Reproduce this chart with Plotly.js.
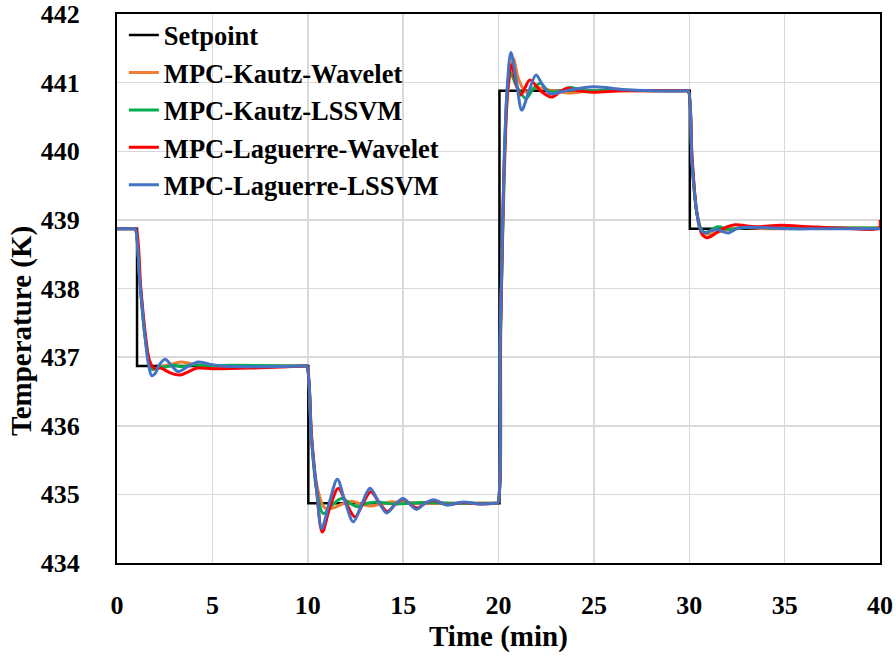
<!DOCTYPE html>
<html>
<head>
<meta charset="utf-8">
<script src="https://cdn.plot.ly/plotly-3.0.1.min.js"></script>
<style>
  html, body { margin: 0; padding: 0; background: #ffffff; }
  #chart { width: 896px; height: 657px; }
</style>
</head>
<body>
<div id="chart"></div>
<script>
// ---------- data ----------
const seriesNames = ["Setpoint", "MPC-Kautz-Wavelet", "MPC-Kautz-LSSVM", "MPC-Laguerre-Wavelet", "MPC-Laguerre-LSSVM"];

const timeSetpoint = [0, 1.05, 1.05, 10.03, 10.03, 20.05, 20.05, 30.03, 30.03, 40];
const tempSetpoint = [438.87, 438.87, 436.87, 436.87, 434.87, 434.87, 440.88, 440.88, 438.87, 438.87];

const timeKautzWavelet = [0, 0.85, 0.95, 1.2, 1.45, 1.7, 1.9, 2.3, 2.9, 3.4, 3.9, 4.5, 6, 9.85, 9.95,
  10.2, 10.5, 10.9, 11.3, 11.8, 12.3, 12.8, 13.3, 13.8, 14.3, 15, 17, 19.85, 19.95,
  20.1, 20.3, 20.5, 20.78, 21.05, 21.45, 21.9, 22.5, 23.1, 23.8, 24.5, 26, 29.85, 29.95,
  30.15, 30.4, 30.7, 31.0, 31.6, 32.2, 32.9, 34, 36, 40];
const tempKautzWavelet = [438.87, 438.87, 438.87, 438.1, 437.35, 436.95, 436.83, 436.86, 436.9, 436.93, 436.9, 436.88, 436.87, 436.87, 436.87,
  435.8, 435.1, 434.8, 434.8, 434.86, 434.9, 434.86, 434.83, 434.86, 434.89, 434.88, 434.87, 434.87, 434.87,
  437.3, 439.6, 440.9, 441.35, 441.05, 440.86, 440.93, 440.9, 440.87, 440.85, 440.87, 440.88, 440.88, 440.88,
  439.85, 439.1, 438.82, 438.79, 438.83, 438.87, 438.89, 438.87, 438.88, 438.88];

const timeKautzLSSVM = [0, 0.85, 0.95, 1.2, 1.45, 1.7, 1.85, 2.1, 2.6, 3.0, 3.4, 4.0, 4.6, 6, 9.85, 9.95,
  10.2, 10.47, 10.82, 11.3, 11.78, 12.2, 12.6, 13.1, 13.6, 14.5, 16, 18, 19.85, 19.95,
  20.1, 20.3, 20.45, 20.6, 20.95, 21.44, 21.8, 22.2, 22.6, 23.2, 23.8, 24.5, 26, 29.85, 29.95,
  30.15, 30.4, 30.65, 30.9, 31.5, 32.1, 33, 35, 40];
const tempKautzLSSVM = [438.87, 438.87, 438.87, 438.1, 437.35, 436.9, 436.82, 436.84, 436.86, 436.88, 436.86, 436.89, 436.87, 436.88, 436.87, 436.87,
  435.8, 435.05, 434.72, 434.85, 434.94, 434.87, 434.82, 434.87, 434.89, 434.86, 434.88, 434.87, 434.87, 434.87,
  437.3, 439.8, 440.85, 441.16, 440.95, 440.77, 440.9, 440.99, 440.88, 440.87, 440.93, 440.88, 440.89, 440.88, 440.88,
  439.85, 439.1, 438.85, 438.82, 438.9, 438.86, 438.89, 438.88, 438.88];

const timeLaguerreWavelet = [0, 0.9, 1.0, 1.25, 1.5, 1.7, 1.95, 2.3, 2.8, 3.3, 3.75, 4.2, 5, 7, 9.85, 9.95,
  10.2, 10.45, 10.76, 11.15, 11.6, 12.05, 12.48, 12.9, 13.3, 13.75, 14.17, 14.6, 15.0, 15.4, 15.75, 16.15, 16.6, 17.3, 18.15, 19, 19.85, 19.95,
  20.12, 20.3, 20.5, 20.69, 20.95, 21.16, 21.4, 21.65, 22.2, 22.78, 23.2, 23.57, 24.2, 25, 26.5, 29.85, 29.95,
  30.15, 30.4, 30.65, 30.9, 31.2, 31.57, 32.0, 32.4, 33.5, 34.8, 36.3, 38, 39.95, 40];
const tempLaguerreWavelet = [438.87, 438.87, 438.87, 438.0, 437.3, 436.95, 436.84, 436.84, 436.77, 436.74, 436.79, 436.84, 436.83, 436.84, 436.87, 436.87,
  435.85, 435.1, 434.45, 434.8, 435.09, 434.85, 434.67, 434.87, 435.04, 434.88, 434.75, 434.86, 434.93, 434.85, 434.8, 434.87, 434.91, 434.85, 434.88, 434.86, 434.87, 434.87,
  437.5, 439.8, 440.95, 441.26, 440.95, 440.82, 440.93, 441.04, 440.88, 440.79, 440.86, 440.92, 440.88, 440.86, 440.88, 440.88, 440.88,
  439.9, 439.1, 438.8, 438.74, 438.77, 438.84, 438.9, 438.93, 438.9, 438.92, 438.9, 438.88, 438.88, 439.0];

const timeLaguerreLSSVM = [0, 0.85, 0.95, 1.2, 1.45, 1.65, 1.82, 2.0, 2.2, 2.52, 2.85, 3.2, 3.7, 4.25, 4.8, 5.5, 7, 9.85, 9.95,
  10.2, 10.47, 10.73, 11.15, 11.55, 11.95, 12.39, 12.85, 13.26, 13.7, 14.14, 14.6, 15.0, 15.35, 15.7, 16.1, 16.6, 17.3, 18.15, 19, 19.85, 19.95,
  20.1, 20.3, 20.45, 20.65, 20.95, 21.22, 21.6, 21.97, 22.3, 22.7, 23.5, 25.0, 26.5, 28, 29.85, 29.95,
  30.15, 30.4, 30.6, 30.85, 31.15, 31.5, 31.75, 32.05, 32.57, 33.5, 35.1, 37, 40];
const tempLaguerreLSSVM = [438.87, 438.87, 438.87, 438.08, 437.35, 436.9, 436.73, 436.76, 436.88, 436.97, 436.88, 436.79, 436.86, 436.93, 436.9, 436.87, 436.86, 436.87, 436.87,
  435.79, 435.06, 434.5, 434.9, 435.22, 434.9, 434.6, 434.87, 435.09, 434.9, 434.73, 434.86, 434.94, 434.86, 434.78, 434.86, 434.92, 434.845, 434.89, 434.86, 434.87, 434.87,
  437.4, 439.9, 440.9, 441.44, 441.0, 440.6, 440.88, 441.11, 440.97, 440.84, 440.88, 440.94, 440.9, 440.88, 440.88, 440.88,
  439.8, 439.1, 438.85, 438.81, 438.84, 438.86, 438.83, 438.81, 438.88, 438.89, 438.87, 438.87, 438.87];

const xTickVals = [0, 5, 10, 15, 20, 25, 30, 35, 40];
const yTickVals = [434, 435, 436, 437, 438, 439, 440, 441, 442];
const xTitle = "Time (min)";
const yTitle = "Temperature (K)";

// ---------- styling ----------
const FONT = "Liberation Serif, serif";
const colors = ["#000000", "#ED7D31", "#00B050", "#FF0000", "#4472C4"];
const widths = [2.5, 3, 3, 3, 3];

const xs = [timeSetpoint, timeKautzWavelet, timeKautzLSSVM, timeLaguerreWavelet, timeLaguerreLSSVM];
const ys = [tempSetpoint, tempKautzWavelet, tempKautzLSSVM, tempLaguerreWavelet, tempLaguerreLSSVM];

const traces = seriesNames.map((name, i) => ({
  type: "scatter",
  mode: "lines",
  name: name,
  x: xs[i],
  y: ys[i],
  line: { color: colors[i], width: widths[i], shape: i === 0 ? "linear" : "spline", smoothing: 0.9 },
  hoverinfo: "skip"
}));

const titleFont = { family: FONT, size: 29, weight: "bold", color: "#000" };

const layout = {
  width: 896,
  height: 657,
  margin: { l: 117, r: 16, t: 14, b: 94, autoexpand: false },
  paper_bgcolor: "#ffffff",
  plot_bgcolor: "#ffffff",
  font: { family: FONT, color: "#000000" },
  showlegend: true,
  legend: {
    x: 0.009, y: 1.005, xanchor: "left", yanchor: "top",
    bgcolor: "rgba(255,255,255,0)",
    font: { family: FONT, size: 26.5, weight: "bold", color: "#000" },
    traceorder: "normal",
    itemwidth: 30
  },
  xaxis: {
    range: [0, 40],
    tickvals: xTickVals,
    ticktext: xTickVals.map(String),
    showgrid: true,
    gridcolor: "#d9d9d9",
    gridwidth: 1.5,
    zeroline: false,
    showline: true,
    linecolor: "#000000",
    linewidth: 2,
    mirror: true,
    ticks: "",
    ticklabelstandoff: 18,
    tickfont: { family: FONT, size: 26, weight: "bold", color: "#000" }
  },
  yaxis: {
    range: [434, 442],
    tickvals: yTickVals,
    ticktext: yTickVals.map(String),
    showgrid: true,
    gridcolor: "#d9d9d9",
    gridwidth: 1.5,
    zeroline: false,
    showline: true,
    linecolor: "#000000",
    linewidth: 2,
    mirror: true,
    ticks: "",
    ticklabelstandoff: 30,
    tickfont: { family: FONT, size: 26, weight: "bold", color: "#000" }
  },
  annotations: [
    { text: xTitle, xref: "paper", yref: "paper", x: 0.5, y: -0.133, xanchor: "center", yanchor: "middle",
      showarrow: false, font: titleFont },
    { text: yTitle, xref: "paper", yref: "paper", x: -0.1245, y: 0.4226, xanchor: "center", yanchor: "middle",
      textangle: -90, showarrow: false, font: titleFont }
  ]
};

Plotly.newPlot("chart", traces, layout, { staticPlot: true, displayModeBar: false });
</script>
</body>
</html>
